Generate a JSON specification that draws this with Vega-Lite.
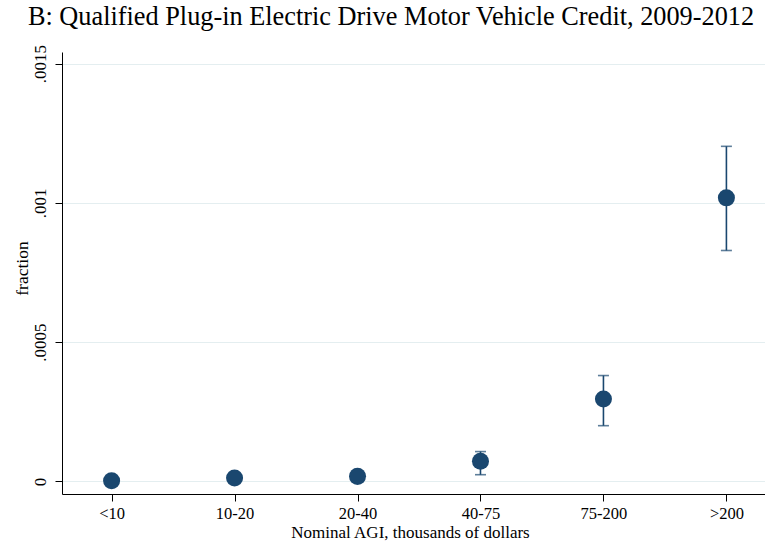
{
  "$schema": "https://vega.github.io/schema/vega-lite/v6.json",
  "autosize": "none",
  "width": 714,
  "height": 442,
  "padding": {"left": 62, "top": 52, "right": 0, "bottom": 54},
  "background": "white",
  "config": {
    "view": {"stroke": null},
    "font": "Liberation Serif"
  },
  "title": {
    "text": "B: Qualified Plug-in Electric Drive Motor Vehicle Credit, 2009-2012",
    "font": "Liberation Serif",
    "fontSize": 26.3,
    "fontWeight": "normal",
    "color": "#000000",
    "anchor": "middle",
    "frame": "group",
    "dx": -28,
    "dy": 4,
    "baseline": "alphabetic",
    "offset": -3
  },
  "data": {
    "values": [
      {"agi": "<10", "order": 1, "frac": 0.0000025, "lo": null, "hi": null},
      {"agi": "10-20", "order": 2, "frac": 0.000012, "lo": null, "hi": null},
      {"agi": "20-40", "order": 3, "frac": 0.000018, "lo": null, "hi": null},
      {"agi": "40-75", "order": 4, "frac": 0.000072, "lo": 0.000024, "hi": 0.000107},
      {"agi": "75-200", "order": 5, "frac": 0.000296, "lo": 0.0002, "hi": 0.00038},
      {"agi": ">200", "order": 6, "frac": 0.001018, "lo": 0.000829, "hi": 0.001203}
    ]
  },
  "encoding": {
    "x": {
      "field": "agi",
      "type": "ordinal",
      "sort": ["<10", "10-20", "20-40", "40-75", "75-200", ">200"],
      "scale": {"type": "point", "padding": 0.4033},
      "axis": {
        "title": "Nominal AGI, thousands of dollars",
        "titleFont": "Liberation Serif",
        "titleFontSize": 17,
        "titleFontWeight": "normal",
        "titleColor": "#000000",
        "titlePadding": 3,
        "titleX": 348,
        "labelFont": "Liberation Serif",
        "labelFontSize": 16.5,
        "labelColor": "#000000",
        "labelAngle": 0,
        "labelPadding": 4,
        "tickSize": 7,
        "tickColor": "#000000",
        "tickWidth": 1,
        "domainColor": "#000000",
        "domainWidth": 1,
        "grid": false
      }
    }
  },
  "layer": [
    {
      "mark": {"type": "rule", "color": "#1a476f", "strokeWidth": 1.6},
      "transform": [{"filter": "datum.lo != null"}],
      "encoding": {
        "y": {"field": "lo", "type": "quantitative"},
        "y2": {"field": "hi"}
      }
    },
    {
      "mark": {"type": "tick", "color": "#1a476f", "size": 11, "thickness": 1.6, "orient": "horizontal"},
      "transform": [{"filter": "datum.lo != null"}],
      "encoding": {
        "y": {"field": "lo", "type": "quantitative"}
      }
    },
    {
      "mark": {"type": "tick", "color": "#1a476f", "size": 11, "thickness": 1.6, "orient": "horizontal"},
      "transform": [{"filter": "datum.hi != null"}],
      "encoding": {
        "y": {"field": "hi", "type": "quantitative"}
      }
    },
    {
      "mark": {"type": "circle", "color": "#1a476f", "opacity": 1, "size": 290},
      "encoding": {
        "y": {
          "field": "frac",
          "type": "quantitative",
          "scale": {"domain": [-0.0000453, 0.0015417], "nice": false, "zero": false},
          "axis": {
            "title": "fraction",
            "titleFont": "Liberation Serif",
            "titleFontSize": 17.5,
            "titleFontWeight": "normal",
            "titleColor": "#000000",
            "titlePadding": 0,
            "titleY": 216,
            "values": [0, 0.0005, 0.001, 0.0015],
            "format": ".4~f",
            "labelExpr": "replace(datum.label, '0.', '.')",
            "labelFont": "Liberation Serif",
            "labelFontSize": 17,
            "labelColor": "#000000",
            "labelAngle": -90,
            "labelPadding": 6,
            "tickSize": 7,
            "tickColor": "#000000",
            "domainColor": "#000000",
            "grid": true,
            "gridColor": "#e4eef0",
            "gridWidth": 1.2
          }
        }
      }
    }
  ],
  "resolve": {"scale": {"y": "shared"}}
}
